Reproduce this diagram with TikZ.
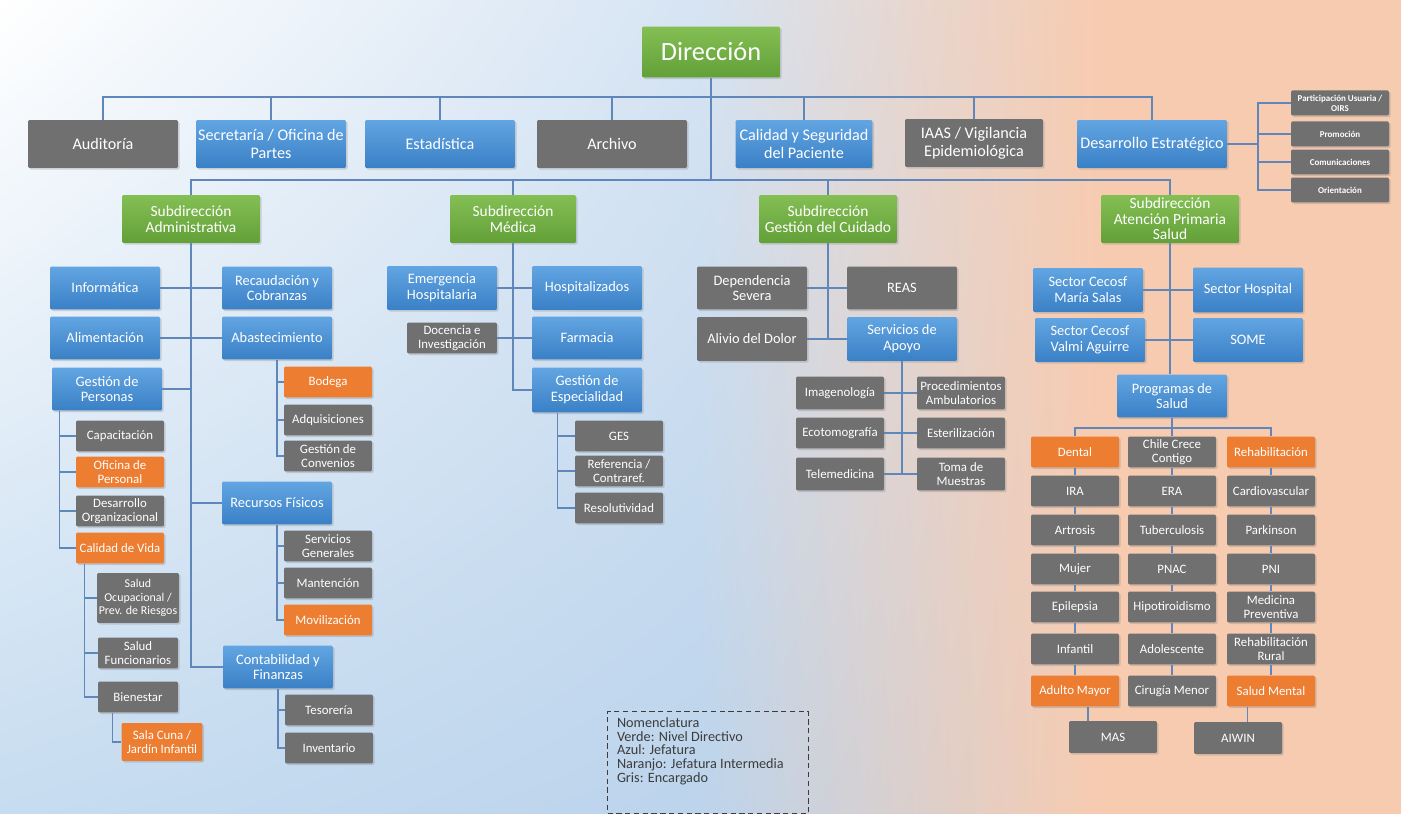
\documentclass[tikz,border=0pt]{standalone}
\usepackage{fontspec}
\setmainfont{Carlito}
\usetikzlibrary{shadows,shadings}

\definecolor{verdeA}{RGB}{132,191,84}
\definecolor{verdeB}{RGB}{98,160,56}
\definecolor{azulA}{RGB}{98,165,226}
\definecolor{azulB}{RGB}{58,128,198}
\definecolor{grisC}{RGB}{112,112,112}
\definecolor{naranjaC}{RGB}{237,125,49}
\definecolor{lineaC}{RGB}{95,135,185}
\definecolor{fondoA}{RGB}{214,228,243}
\definecolor{fondoB}{RGB}{198,220,240}
\definecolor{fondoC}{RGB}{188,212,236}
\definecolor{fondoD}{RGB}{247,203,176}
\definecolor{textoL}{RGB}{60,60,60}

\begin{document}
\begin{tikzpicture}[x=0.02cm, y=-0.02cm]
    % --- 样式设置 ---
    \tikzstyle{caja}=[rectangle, rounded corners=0.8pt, text=white, align=center, inner sep=1pt,
        drop shadow={shadow xshift=0.9pt, shadow yshift=-0.9pt, opacity=0.3}]
    \tikzstyle{verde}=[top color=verdeA, bottom color=verdeB]
    \tikzstyle{azul}=[top color=azulA, bottom color=azulB]
    \tikzstyle{gris}=[fill=grisC]
    \tikzstyle{naranja}=[fill=naranjaC]
    \tikzstyle{fila}=[caja, minimum width=3cm, minimum height=0.96cm, font=\fontsize{9.2}{10.3}\selectfont]
    \tikzstyle{sub}=[caja, verde, minimum width=2.76cm, minimum height=0.96cm, font=\fontsize{8.8}{8.9}\selectfont]
    \tikzstyle{medio}=[caja, minimum width=2.2cm, minimum height=0.86cm, font=\fontsize{8.2}{9}\selectfont]
    \tikzstyle{chico}=[caja, minimum width=1.76cm, minimum height=0.62cm, font=\fontsize{7.3}{8}\selectfont]
    \tikzstyle{mini}=[caja, gris, minimum width=1.96cm, minimum height=0.5cm, font=\bfseries\fontsize{5.1}{5.6}\selectfont]
    \tikzstyle{linea}=[draw=lineaC, line width=0.8pt]

    % 0. 背景渐变
    \useasboundingbox (0,0) rectangle (1401,814);
    \shade[upper left=white, upper right=fondoA, lower left=fondoB, lower right=fondoC] (0,0) rectangle (700,814);
    \shade[upper left=fondoA, upper right=fondoD, lower left=fondoC, lower right=fondoD] (700,0) rectangle (1101,814);
    \fill[fondoD] (1100,0) rectangle (1401,814);

    % 1. Dirección 与第一层
    \node[caja, verde, minimum width=2.76cm, minimum height=1.02cm, font=\fontsize{15}{16}\selectfont] (dir) at (711,52) {Dirección};

    \node[fila, gris] (aud) at (103,144) {Auditoría};
    \node[fila, azul] (sec) at (271,144) {Secretaría / Oficina de\\Partes};
    \node[fila, azul] (est) at (440,144) {Estadística};
    \node[fila, gris] (arc) at (612,144) {Archivo};
    \node[fila, azul, minimum width=2.74cm] (cal) at (804,144) {Calidad y Seguridad\\del Paciente};
    \node[fila, gris, minimum width=2.76cm] (iaas) at (974,143) {IAAS / Vigilancia\\Epidemiológica};
    \node[fila, azul] (des) at (1152,144) {Desarrollo Estratégico};

    \node[mini] (part) at (1340,103) {Participación Usuaria /\\OIRS};
    \node[mini] (prom) at (1340,134) {Promoción};
    \node[mini] (com) at (1340,162) {Comunicaciones};
    \node[mini] (ori) at (1340,190) {Orientación};

    % 2. 四个副主任
    \node[sub] (sadm) at (191,219) {Subdirección\\Administrativa};
    \node[sub, minimum width=2.52cm] (smed) at (513,219) {Subdirección\\Médica};
    \node[sub] (sgc) at (828,219) {Subdirección\\Gestión del Cuidado};
    \node[sub] (saps) at (1170,219) {Subdirección\\Atención Primaria\\Salud};

    % 3. Administrativa
    \node[medio, azul] (info) at (105,288) {Informática};
    \node[medio, azul] (reca) at (277,288) {Recaudación y\\Cobranzas};
    \node[medio, azul] (alim) at (105,338) {Alimentación};
    \node[medio, azul] (abas) at (277,338) {Abastecimiento};
    \node[medio, azul] (gp) at (107,389) {Gestión de\\Personas};
    \node[chico, naranja] (bod) at (328,382) {Bodega};
    \node[chico, gris] (adq) at (328,420) {Adquisiciones};
    \node[chico, gris] (conv) at (328,456) {Gestión de\\Convenios};
    \node[medio, azul] (rf) at (277,503) {Recursos Físicos};
    \node[chico, gris] (sg) at (328,546) {Servicios\\Generales};
    \node[chico, gris] (mant) at (328,583) {Mantención};
    \node[chico, naranja] (movi) at (328,620) {Movilización};
    \node[medio, azul] (cyf) at (278,667) {Contabilidad y\\Finanzas};
    \node[chico, gris] (teso) at (329,710) {Tesorería};
    \node[chico, gris] (inv) at (329,748) {Inventario};
    \node[chico, gris] (capa) at (120,436) {Capacitación};
    \node[chico, naranja] (ofi) at (120,472) {Oficina de\\Personal};
    \node[chico, gris] (dorg) at (120,511) {Desarrollo\\Organizacional};
    \node[chico, naranja] (cdv) at (120,548) {Calidad de Vida};
    \node[chico, gris, minimum width=1.6cm, minimum height=1cm, font=\fontsize{6.8}{7.6}\selectfont] (socu) at (138,598) {Salud\\Ocupacional /\\Prev. de Riesgos};
    \node[chico, gris, minimum width=1.6cm] (sfun) at (138,653) {Salud\\Funcionarios};
    \node[chico, gris, minimum width=1.6cm] (bien) at (138,697) {Bienestar};
    \node[chico, naranja, minimum width=1.62cm, minimum height=0.76cm] (cuna) at (162,742) {Sala Cuna /\\Jardín Infantil};

    % 4. Médica
    \node[medio, azul, minimum height=0.88cm] (emer) at (442,288) {Emergencia\\Hospitalaria};
    \node[medio, azul, minimum height=0.88cm] (hosp) at (587,288) {Hospitalizados};
    \node[chico, gris, minimum width=1.8cm] (doc) at (452,338) {Docencia e\\Investigación};
    \node[medio, azul] (farm) at (587,338) {Farmacia};
    \node[medio, azul, minimum height=0.9cm] (ge) at (587,390) {Gestión de\\Especialidad};
    \node[chico, gris] (ges) at (619,436) {GES};
    \node[chico, gris] (ref) at (619,471) {Referencia /\\Contraref.};
    \node[chico, gris] (reso) at (619,508) {Resolutividad};

    % 5. Gestión del Cuidado
    \node[medio, gris] (dep) at (752,288) {Dependencia\\Severa};
    \node[medio, gris] (reas) at (902,288) {REAS};
    \node[medio, gris, minimum height=0.88cm] (ali) at (752,339) {Alivio del Dolor};
    \node[medio, azul, minimum height=0.88cm] (sa) at (902,339) {Servicios de\\Apoyo};
    \node[chico, gris, minimum height=0.66cm] (imag) at (840,393) {Imagenología};
    \node[chico, gris] (eco) at (840,433) {Ecotomografía};
    \node[chico, gris, minimum height=0.66cm] (tele) at (840,474) {Telemedicina};
    \node[chico, gris, minimum height=0.66cm] (proc) at (961,393) {Procedimientos\\Ambulatorios};
    \node[chico, gris] (este) at (961,433) {Esterilización};
    \node[chico, gris, minimum height=0.66cm] (toma) at (961,474) {Toma de\\Muestras};

    % 6. Atención Primaria
    \node[medio, azul, minimum height=0.88cm] (cms) at (1088,290) {Sector Cecosf\\María Salas};
    \node[medio, azul, minimum height=0.9cm] (shos) at (1248,290) {Sector Hospital};
    \node[medio, azul, minimum height=0.88cm] (cva) at (1090,340) {Sector Cecosf\\Valmi Aguirre};
    \node[medio, azul, minimum height=0.88cm] (some) at (1248,340) {SOME};
    \node[medio, azul] (prog) at (1172,396) {Programas de\\Salud};

    \node[chico, naranja] (dent) at (1075,452) {Dental};
    \node[chico, gris] (ira) at (1075,491) {IRA};
    \node[chico, gris] (artr) at (1075,530) {Artrosis};
    \node[chico, gris] (muj) at (1075,569) {Mujer};
    \node[chico, gris] (epil) at (1075,607) {Epilepsia};
    \node[chico, gris] (infa) at (1075,649) {Infantil};
    \node[chico, naranja] (adm) at (1075,691) {Adulto Mayor};

    \node[chico, gris] (chcc) at (1172,452) {Chile Crece\\Contigo};
    \node[chico, gris] (era) at (1172,491) {ERA};
    \node[chico, gris] (tbc) at (1172,530) {Tuberculosis};
    \node[chico, gris] (pnac) at (1172,569) {PNAC};
    \node[chico, gris] (hipo) at (1172,607) {Hipotiroidismo};
    \node[chico, gris] (adol) at (1172,649) {Adolescente};
    \node[chico, gris] (ciru) at (1172,691) {Cirugía Menor};

    \node[chico, naranja] (rehab) at (1271,452) {Rehabilitación};
    \node[chico, gris] (card) at (1271,491) {Cardiovascular};
    \node[chico, gris] (park) at (1271,530) {Parkinson};
    \node[chico, gris] (pni) at (1271,569) {PNI};
    \node[chico, gris] (mprev) at (1271,607) {Medicina\\Preventiva};
    \node[chico, gris] (rrur) at (1271,649) {Rehabilitación\\Rural};
    \node[chico, naranja] (smen) at (1271,691) {Salud Mental};

    \node[chico, gris, minimum height=0.64cm] (mas) at (1113,737) {MAS};
    \node[chico, gris, minimum height=0.64cm] (aiwin) at (1238,738) {AIWIN};

    % 7. 连线
    \coordinate (b1) at (0,97);
    \coordinate (b2) at (0,180);
    \coordinate (b3) at (0,428);
    \coordinate (dR) at (1258,0);

    \draw[linea] (aud.north) |- (des.north |- b1) -- (des.north);
    \foreach \n in {sec,est,arc,cal,iaas}
        \draw[linea] (\n.north) -- (\n.north |- b1);
    \draw[linea] (dir.south) -- (dir.south |- b2);
    \draw[linea] (sadm.north) |- (saps.north |- b2) -- (saps.north);
    \foreach \n in {smed,sgc}
        \draw[linea] (\n.north) -- (\n.north |- b2);

    \draw[linea] (des.east) -- (des.east -| dR);
    \draw[linea] (part.west) -| (dR |- ori.west) -- (ori.west);
    \foreach \n in {prom,com}
        \draw[linea] (\n.west) -- (\n.west -| dR);

    % Administrativa
    \draw[linea] (sadm.south) |- (cyf.west);
    \draw[linea] (info.east) -- (reca.west);
    \draw[linea] (alim.east) -- (abas.west);
    \draw[linea] (gp.east) -- (gp.east -| sadm.south);
    \draw[linea] (rf.west) -- (rf.west -| sadm.south);
    \draw[linea] (abas.south) |- (conv.west);
    \foreach \n in {bod,adq}
        \draw[linea] (\n.west) -- (\n.west -| abas.south);
    \draw[linea] (rf.south) |- (movi.west);
    \foreach \n in {sg,mant}
        \draw[linea] (\n.west) -- (\n.west -| rf.south);
    \draw[linea] (cyf.south) |- (inv.west);
    \draw[linea] (teso.west) -- (teso.west -| cyf.south);

    \coordinate (gpL) at ([xshift=4.5pt]gp.south west);
    \draw[linea] (gpL) |- (cdv.west);
    \foreach \n in {capa,ofi,dorg}
        \draw[linea] (\n.west) -- (\n.west -| gpL);
    \coordinate (cdvL) at ([xshift=5pt]cdv.south west);
    \draw[linea] (cdvL) |- (bien.west);
    \foreach \n in {socu,sfun}
        \draw[linea] (\n.west) -- (\n.west -| cdvL);
    \coordinate (bienL) at ([xshift=8.5pt]bien.south west);
    \draw[linea] (bienL) |- (cuna.west);

    % Médica
    \draw[linea] (smed.south) |- (ge.west);
    \draw[linea] (emer.east) -- (hosp.west);
    \draw[linea] (doc.east) -- (farm.west);
    \coordinate (geL) at ([xshift=14.7pt]ge.south west);
    \draw[linea] (geL) |- (reso.west);
    \foreach \n in {ges,ref}
        \draw[linea] (\n.west) -- (\n.west -| geL);

    % Gestión del Cuidado
    \draw[linea] (sgc.south) -- (sgc.south |- sa.west);
    \draw[linea] (dep.east) -- (reas.west);
    \draw[linea] (ali.east) -- (sa.west);
    \draw[linea] (sa.south) -- (sa.south |- tele.east);
    \draw[linea] (imag.east) -- (proc.west);
    \draw[linea] (eco.east) -- (este.west);
    \draw[linea] (tele.east) -- (toma.west);

    % Atención Primaria
    \draw[linea] (saps.south) -- (saps.south |- prog.north);
    \draw[linea] (cms.east) -- (shos.west);
    \draw[linea] (cva.east) -- (some.west);
    \draw[linea] (prog.south) -- (prog.south |- b3);
    \draw[linea] (dent.north) |- (rehab.north |- b3) -- (rehab.north);
    \draw[linea] (chcc.north) -- (chcc.north |- b3);
    \foreach \a/\b in {dent/ira,ira/artr,artr/muj,muj/epil,epil/infa,infa/adm,
                       chcc/era,era/tbc,tbc/pnac,pnac/hipo,hipo/adol,adol/ciru,
                       rehab/card,card/park,park/pni,pni/mprev,mprev/rrur,rrur/smen}
        \draw[linea] (\a.south) -- (\b.north);
    \draw[linea] ([xshift=11pt]mas.north west) coordinate (m1) -- (m1 |- adm.south);
    \draw[linea] ([xshift=12pt]smen.south west) coordinate (s1) -- (s1 |- aiwin.north);

    % 8. 图例
    \node[draw=textoL, densely dashed, line width=0.6pt, minimum width=4.02cm, minimum height=2.04cm, anchor=north west] (ley) at (607,711) {};
    \node[anchor=north west, align=left, inner sep=0pt, text=textoL, font=\fontsize{8.1}{7.8}\selectfont] (leyT) at ([xshift=5.5pt, yshift=-3.5pt]ley.north west)
        {Nomenclatura\\Verde: Nivel Directivo\\Azul: Jefatura\\Naranjo: Jefatura Intermedia\\Gris: Encargado};

\end{tikzpicture}
\end{document}
